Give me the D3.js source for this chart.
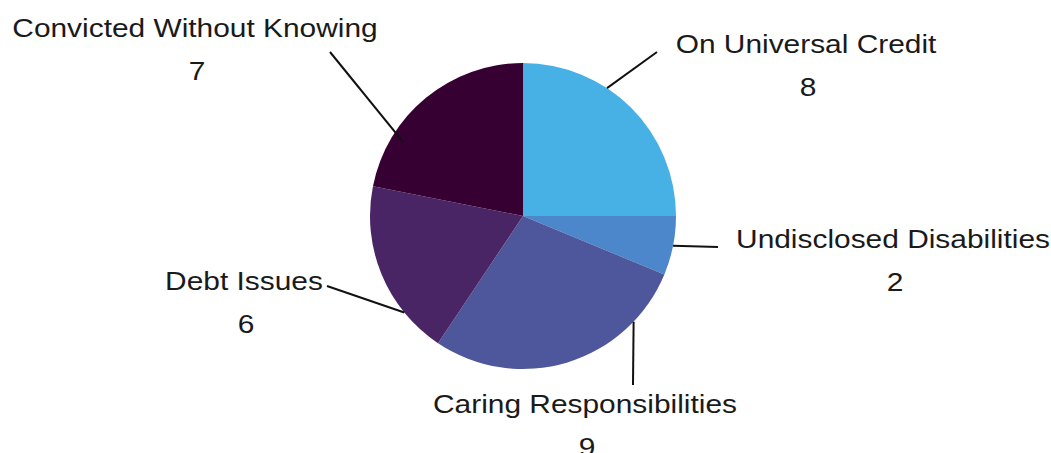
<!DOCTYPE html>
<html><head><meta charset="utf-8">
<script src="https://cdn.jsdelivr.net/npm/d3@7"></script>
<style>body{margin:0;background:#fff}svg{display:block}text{font-family:"Liberation Sans",Arial,sans-serif;fill:#1a1a1a}</style>
</head><body>
<svg id="c" width="1051" height="453"></svg>
<script>
const categories = ["On Universal Credit","Undisclosed Disabilities","Caring Responsibilities","Debt Issues","Convicted Without Knowing"];
const values = [8,2,9,6,7];
const colors = ["#47b1e6","#4c86cb","#4e579b","#4a2566","#360033"];

// layout (label positions & leader lines)
const cx = 523, cy = 216, R = 153;
const sx = 1.15;
const labelLayout = [
  {lx:806, ly:53,  ang:33.3,  r:153, ex:657, ey:52},
  {lx:893, ly:248, ang:101.25,r:153, ex:718, ey:247},
  {lx:585, ly:413, ang:133.7, r:153, ex:633, ey:385},
  {lx:244, ly:290, ang:230.9, r:153, ex:327, ey:286},
  {lx:195, ly:37,  ang:301.7, r:141, ex:330, ey:52}
];

const svg = d3.select("#c");
const data = categories.map((c,i)=>({cat:c, val:values[i], col:colors[i], lay:labelLayout[i]}));
const pie = d3.pie().value(d=>d.val).sort(null);
const arc = d3.arc().innerRadius(0).outerRadius(R);
const g = svg.append("g").attr("transform",`translate(${cx},${cy})`);
g.selectAll("path").data(pie(data)).join("path")
  .attr("d",arc).attr("fill",d=>d.data.col);

const toXY = (deg,r)=>[cx + r*Math.sin(deg*Math.PI/180), cy - r*Math.cos(deg*Math.PI/180)];
svg.selectAll("line.lead").data(data).join("line").attr("class","lead")
  .attr("x1",d=>toXY(d.lay.ang,d.lay.r)[0]).attr("y1",d=>toXY(d.lay.ang,d.lay.r)[1])
  .attr("x2",d=>d.lay.ex).attr("y2",d=>d.lay.ey)
  .attr("stroke","#111").attr("stroke-width",2);

svg.selectAll("text.lab").data(data).join("text").attr("class","lab")
  .attr("transform",d=>`translate(${d.lay.lx},${d.lay.ly}) scale(${sx},1)`).attr("text-anchor","middle")
  .attr("font-size",26).text(d=>d.cat);
svg.selectAll("text.val").data(data).join("text").attr("class","val")
  .attr("transform",d=>`translate(${d.lay.lx+2},${d.lay.ly+43}) scale(${sx},1)`).attr("text-anchor","middle")
  .attr("font-size",26).text(d=>d.val);
</script>
</body></html>
